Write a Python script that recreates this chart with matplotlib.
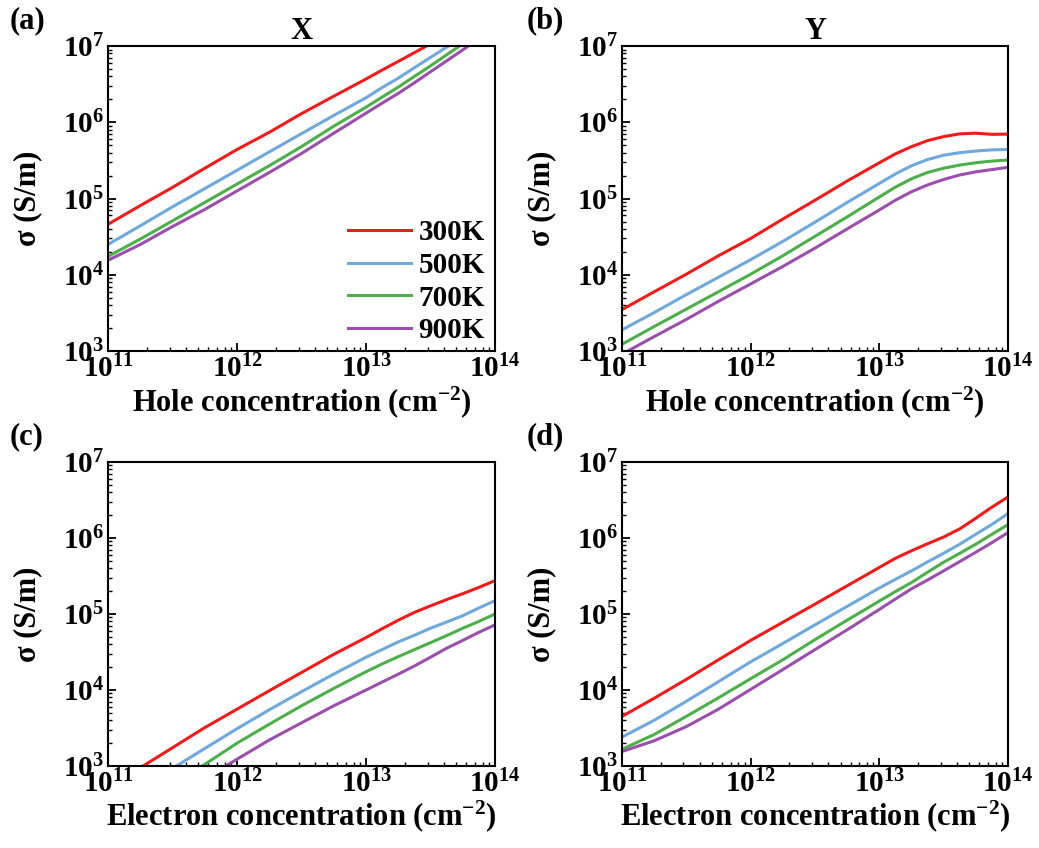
import matplotlib
matplotlib.use('Agg')
import matplotlib.pyplot as plt
import numpy as np
from matplotlib.ticker import FuncFormatter, LogLocator

plt.rcParams['font.family'] = ['Liberation Serif', 'DejaVu Serif']
plt.rcParams['font.weight'] = 'bold'
plt.rcParams['mathtext.fontset'] = 'custom'
plt.rcParams['mathtext.rm'] = 'Liberation Serif:bold'
plt.rcParams['mathtext.bf'] = 'Liberation Serif:bold'
plt.rcParams['mathtext.default'] = 'bf'

# carrier concentration (cm^-2), shared by all panels
conc = [1e11, 1.78e11, 3.16e11, 5.62e11, 1e12, 1.78e12, 3.16e12, 5.62e12,
        1e13, 1.33e13, 1.78e13, 2.37e13, 3.16e13, 4.22e13, 5.62e13, 7.5e13, 1e14]

temps = ['300K', '500K', '700K', '900K']
colors = ['#f01c1c', '#6fa8dc', '#4daf4a', '#9b4fad']

# (a) hole, X direction
hole_x_300 = [4.6e4, 8.1e4, 1.4e5, 2.5e5, 4.4e5, 7.4e5, 1.3e6, 2.2e6,
              3.7e6, 4.84e6, 6.3e6, 8.2e6, 1.07e7, 1.38e7, 1.8e7, 2.3e7, 2.95e7]
hole_x_500 = [2.5e4, 4.4e4, 7.8e4, 1.35e5, 2.35e5, 4.1e5, 7.1e5, 1.23e6,
              2.1e6, 2.85e6, 3.8e6, 5.2e6, 7.1e6, 9.7e6, 1.3e7, 1.8e7, 2.5e7]
hole_x_700 = [1.74e4, 2.95e4, 5.1e4, 8.9e4, 1.55e5, 2.7e5, 4.8e5, 8.9e5,
              1.58e6, 2.14e6, 2.9e6, 4.0e6, 5.5e6, 7.7e6, 1.07e7, 1.5e7, 2.1e7]
hole_x_900 = [1.55e4, 2.5e4, 4.3e4, 7.2e4, 1.26e5, 2.2e5, 3.9e5, 7.2e5,
              1.32e6, 1.78e6, 2.4e6, 3.3e6, 4.6e6, 6.4e6, 8.9e6, 1.26e7, 1.8e7]

# (b) hole, Y direction
hole_y_300 = [3.5e3, 6.0e3, 1.02e4, 1.78e4, 3.0e4, 5.4e4, 9.5e4, 1.7e5,
              2.95e5, 3.85e5, 4.8e5, 5.75e5, 6.5e5, 7.05e5, 7.2e5, 6.95e5, 7.0e5]
hole_y_500 = [1.9e3, 3.2e3, 5.5e3, 9.3e3, 1.58e4, 2.75e4, 4.9e4, 8.9e4,
              1.58e5, 2.1e5, 2.7e5, 3.25e5, 3.7e5, 4.0e5, 4.2e5, 4.35e5, 4.4e5]
hole_y_700 = [1.23e3, 2.1e3, 3.55e3, 6.0e3, 1.02e4, 1.78e4, 3.2e4, 5.75e4,
              1.05e5, 1.41e5, 1.82e5, 2.2e5, 2.5e5, 2.75e5, 2.95e5, 3.1e5, 3.2e5]
hole_y_900 = [9.1e2, 1.55e3, 2.6e3, 4.5e3, 7.6e3, 1.29e4, 2.24e4, 4.0e4,
              7.1e4, 9.5e4, 1.23e5, 1.51e5, 1.78e5, 2.04e5, 2.24e5, 2.4e5, 2.57e5]

# (c) electron, X direction
elec_x_300 = [5.2e2, 9.5e2, 1.74e3, 3.2e3, 5.6e3, 9.8e3, 1.7e4, 2.95e4,
              4.9e4, 6.4e4, 8.3e4, 1.05e5, 1.28e5, 1.55e5, 1.85e5, 2.24e5, 2.75e5]
elec_x_500 = [2.8e2, 5.1e2, 9.3e2, 1.7e3, 3.1e3, 5.5e3, 9.5e3, 1.62e4,
              2.7e4, 3.4e4, 4.3e4, 5.25e4, 6.5e4, 7.85e4, 9.5e4, 1.2e5, 1.5e5]
elec_x_700 = [1.74e2, 3.1e2, 5.6e2, 1.05e3, 2.0e3, 3.55e3, 6.2e3, 1.05e4,
              1.74e4, 2.2e4, 2.75e4, 3.4e4, 4.2e4, 5.2e4, 6.5e4, 8.0e4, 1.0e5]
elec_x_900 = [1.0e2, 1.86e2, 3.55e2, 6.8e2, 1.23e3, 2.2e3, 3.7e3, 6.2e3,
              1.0e4, 1.27e4, 1.62e4, 2.07e4, 2.7e4, 3.55e4, 4.5e4, 5.75e4, 7.2e4]

# (d) electron, Y direction
elec_y_300 = [4.5e3, 7.8e3, 1.38e4, 2.5e4, 4.5e4, 7.8e4, 1.35e5, 2.35e5,
              4.1e5, 5.4e5, 6.8e5, 8.4e5, 1.03e6, 1.32e6, 1.82e6, 2.55e6, 3.47e6]
elec_y_500 = [2.4e3, 4.0e3, 7.1e3, 1.29e4, 2.35e4, 4.1e4, 7.2e4, 1.26e5,
              2.2e5, 2.85e5, 3.7e5, 4.85e5, 6.3e5, 8.3e5, 1.12e6, 1.51e6, 2.1e6]
elec_y_700 = [1.66e3, 2.6e3, 4.5e3, 7.9e3, 1.41e4, 2.5e4, 4.6e4, 8.3e4,
              1.48e5, 1.97e5, 2.6e5, 3.55e5, 4.8e5, 6.3e5, 8.3e5, 1.12e6, 1.5e6]
elec_y_900 = [1.55e3, 2.15e3, 3.3e3, 5.6e3, 1.02e4, 1.86e4, 3.4e4, 6.2e4,
              1.15e5, 1.57e5, 2.15e5, 2.8e5, 3.7e5, 4.9e5, 6.5e5, 8.7e5, 1.18e6]

panels = [
    ('(a)', 'X', 'Hole', [hole_x_300, hole_x_500, hole_x_700, hole_x_900]),
    ('(b)', 'Y', 'Hole', [hole_y_300, hole_y_500, hole_y_700, hole_y_900]),
    ('(c)', None, 'Electron', [elec_x_300, elec_x_500, elec_x_700, elec_x_900]),
    ('(d)', None, 'Electron', [elec_y_300, elec_y_500, elec_y_700, elec_y_900]),
]

# axes boxes in figure fractions [left, bottom, width, height]
boxes = [
    [0.104, 0.586, 0.3725, 0.3597],
    [0.5987, 0.586, 0.3715, 0.3597],
    [0.104, 0.0967, 0.3725, 0.3585],
    [0.5987, 0.0967, 0.3715, 0.3585],
]
tag_pos = [(0.009, 0.976), (0.507, 0.976), (0.009, 0.485), (0.507, 0.485)]

fig = plt.figure(figsize=(10.39, 8.48), dpi=100)

sci = FuncFormatter(lambda v, pos: r'$\mathbf{10^{%d}}$' % int(round(np.log10(v))))

for i, (tag, title, carrier, series) in enumerate(panels):
    ax = fig.add_axes(boxes[i])
    for vals, t, c in zip(series, temps, colors):
        ax.plot(conc, vals, color=c, lw=2.2, label=t)
    ax.set_xscale('log')
    ax.set_yscale('log')
    ax.set_xlim(1e11, 1e14)
    ax.set_ylim(1e3, 1e7)
    ax.xaxis.set_major_locator(LogLocator(base=10, numticks=10))
    ax.yaxis.set_major_locator(LogLocator(base=10, numticks=10))
    ax.xaxis.set_minor_locator(LogLocator(base=10, subs=np.arange(2, 10), numticks=20))
    ax.yaxis.set_minor_locator(LogLocator(base=10, subs=np.arange(2, 10), numticks=20))
    ax.xaxis.set_major_formatter(sci)
    ax.yaxis.set_major_formatter(sci)
    ax.tick_params(which='both', direction='in', top=False, right=False, labelsize=21)
    ax.tick_params(which='major', length=6, width=1.3, pad=3)
    ax.tick_params(which='minor', length=3, width=1.0)
    for s in ax.spines.values():
        s.set_linewidth(1.5)
    ax.set_xlabel(carrier + r' concentration (cm$^{-2}$)', fontsize=22, fontweight='bold', labelpad=0)
    ax.set_ylabel('σ (S/m)', fontsize=22, fontweight='bold')
    ax.yaxis.set_label_coords(-0.17, 0.5)
    if title:
        ax.set_title(title, fontsize=22, fontweight='bold', pad=3)
    fig.text(tag_pos[i][0], tag_pos[i][1], tag, fontsize=22, fontweight='bold', va='center')
    if i == 0:
        ax.legend(loc='lower right', bbox_to_anchor=(1.03, -0.05), frameon=False,
                  handlelength=2.15, handletextpad=0.25, labelspacing=0.2,
                  borderaxespad=0.35, prop={'weight': 'bold', 'size': 21})

fig.savefig('out.png', dpi=100)
